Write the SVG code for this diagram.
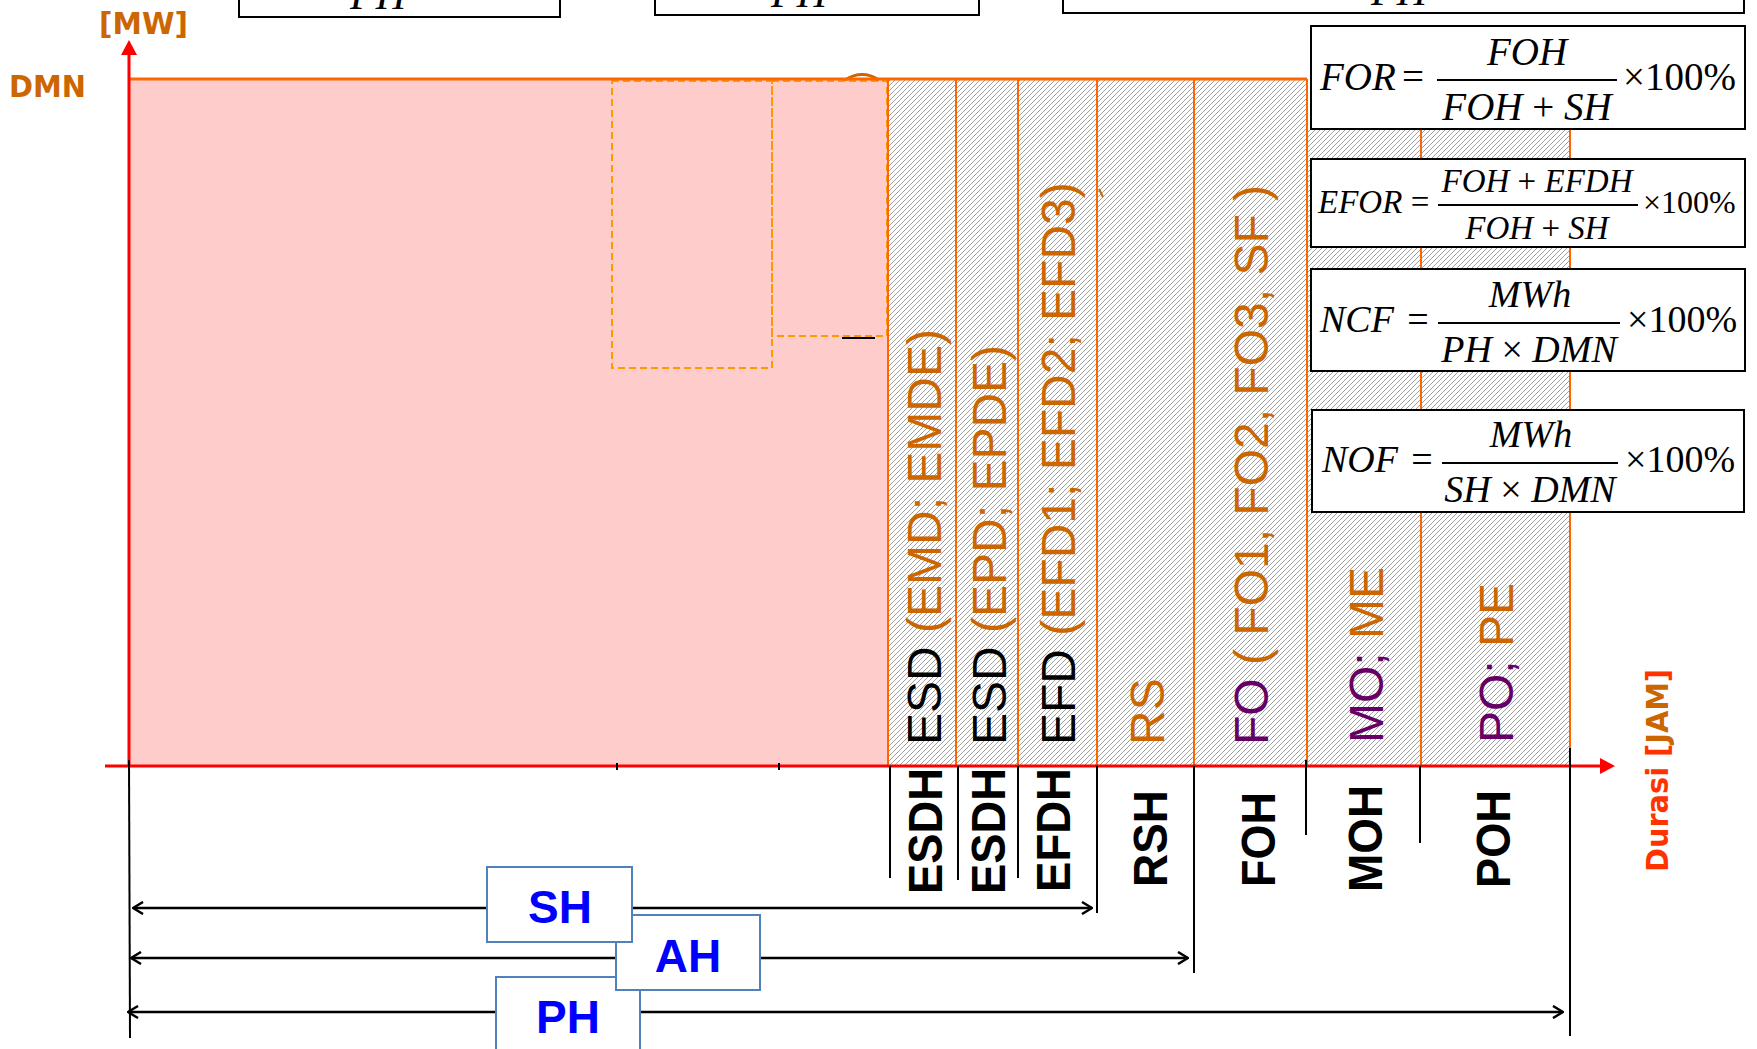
<svg xmlns="http://www.w3.org/2000/svg" width="1757" height="1049" viewBox="0 0 1757 1049">
<style>
.ax{stroke:#FF0000;stroke-width:3;fill:none}
.col{stroke:#FF6600;stroke-width:2}
.tick{stroke:#000;stroke-width:2}
.lbl{font-family:"Liberation Sans",Arial,sans-serif;font-size:48px}
.blbl{font-family:"Liberation Sans",Arial,sans-serif;font-size:48px;font-weight:bold;fill:#000}
.f{font-family:"Liberation Serif","Times New Roman",serif;font-style:italic;fill:#000}
.u{font-style:normal}
.fbox{fill:#fff;stroke:#000;stroke-width:2}
.bar{stroke:#000;stroke-width:2}
.hbox{fill:#fff;stroke:#4F81BD;stroke-width:2}
.htxt{font-family:"Liberation Sans",Arial,sans-serif;font-weight:bold;font-size:46px;fill:#0000FF;text-anchor:middle}
.dash{fill:none;stroke:#FF9900;stroke-width:2;stroke-dasharray:7 4}
.or{fill:#CC6600}.pu{fill:#660066}.bk{fill:#000}.rd{fill:#FF3300}
.vb{font-family:"DejaVu Sans",Verdana,sans-serif;font-weight:bold}
.arr{stroke:#000;stroke-width:2.5;fill:none}
</style>
<defs>
<pattern id="hatch" width="5" height="5" patternUnits="userSpaceOnUse">
<rect width="5" height="5" fill="#fff"/>
<path d="M-1,1 L1,-1 M0,5 L5,0 M4,6 L6,4" stroke="#a0a0a0" stroke-width="1"/>
</pattern>
<marker id="chev" viewBox="0 0 12 14" refX="11" refY="7" markerWidth="12" markerHeight="14" markerUnits="userSpaceOnUse" orient="auto-start-reverse">
<path d="M1,1 L11,7 L1,13" fill="none" stroke="#000" stroke-width="2.5"/>
</marker>
</defs>

<!-- top clipped boxes -->
<g id="topbox1"><rect class="fbox" x="239" y="-20" width="321" height="37"/><text class="f" x="378" y="9" font-size="42" text-anchor="middle">PH</text></g>
<g id="topbox2"><rect class="fbox" x="655" y="-20" width="324" height="35"/><text class="f" x="799" y="7" font-size="42" text-anchor="middle">PH</text></g>
<g id="topbox3"><rect class="fbox" x="1063" y="-20" width="681" height="33"/><text class="f" x="1399" y="5" font-size="42" text-anchor="middle">PH</text></g>

<!-- chart areas -->
<g id="area">
<rect x="129" y="79" width="759" height="687" fill="#FFCCCC"/>
<rect x="888" y="79" width="419" height="687" fill="url(#hatch)"/>
<rect x="1307" y="129" width="263" height="637" fill="url(#hatch)"/>
<rect class="dash" x="612" y="81" width="160" height="287"/>
<rect class="dash" x="772" y="81" width="115" height="255"/>
<line x1="842" y1="338" x2="875" y2="338" stroke="#000" stroke-width="2"/>
<path d="M845,80 Q862,69 879,80" fill="none" stroke="#CC6600" stroke-width="3"/>
<line x1="129" y1="79" x2="1307" y2="79" stroke="#FF6600" stroke-width="3"/>
<line class="col" x1="888" y1="79" x2="888" y2="766"/>
<line class="col" x1="956" y1="79" x2="956" y2="766"/>
<line class="col" x1="1018" y1="79" x2="1018" y2="766"/>
<line class="col" x1="1097" y1="79" x2="1097" y2="766" stroke-width="3"/>
<line class="col" x1="1194" y1="79" x2="1194" y2="766"/>
<line class="col" x1="1307" y1="79" x2="1307" y2="766"/>
<line class="col" x1="1421" y1="129" x2="1421" y2="766"/>
<line class="col" x1="1570" y1="129" x2="1570" y2="748"/>
<path d="M1099,189 L1103,197" stroke="#CC6600" stroke-width="2"/>
</g>

<!-- axes -->
<g id="axes">
<line class="ax" x1="129" y1="766" x2="129" y2="54"/>
<polygon points="121,55 137,55 129,40" fill="#FF0000"/>
<line class="ax" x1="105" y1="766" x2="1601" y2="766"/>
<polygon points="1600,758 1600,774 1615,766" fill="#FF0000"/>
<line class="tick" x1="617" y1="763" x2="617" y2="770" stroke-width="1"/>
<line class="tick" x1="779" y1="763" x2="779" y2="770" stroke-width="1"/>
<text class="vb or" x="99" y="34" font-size="30" textLength="89" lengthAdjust="spacingAndGlyphs">[MW]</text>
<text class="vb or" x="9" y="97" font-size="31" textLength="77" lengthAdjust="spacingAndGlyphs">DMN</text>
<text class="vb" font-size="30" transform="translate(1668,872) rotate(-90)" textLength="203" lengthAdjust="spacingAndGlyphs"><tspan class="rd">Durasi [</tspan><tspan class="or">JAM</tspan><tspan class="rd">]</tspan></text>
</g>

<!-- column labels -->
<g id="col-labels">
<text class="lbl" transform="translate(941,745) rotate(-90)"><tspan class="bk">ESD</tspan><tspan class="or"> (EMD; EMDE)</tspan></text>
<text class="lbl" transform="translate(1006,745) rotate(-90)"><tspan class="bk">ESD</tspan><tspan class="or"> (EPD; EPDE)</tspan></text>
<text class="lbl" transform="translate(1075,745) rotate(-90)"><tspan class="bk">EFD</tspan><tspan class="or"> (EFD1; EFD2; EFD3)</tspan></text>
<text class="lbl or" transform="translate(1164,745) rotate(-90)">RS</text>
<text class="lbl" transform="translate(1268,745) rotate(-90)"><tspan class="pu">FO</tspan><tspan class="or"> ( FO1, FO2, FO3, SF )</tspan></text>
<text class="lbl" transform="translate(1383,743) rotate(-90)"><tspan class="pu">MO;</tspan><tspan class="or"> ME</tspan></text>
<text class="lbl" transform="translate(1513,743) rotate(-90)"><tspan class="pu">PO;</tspan><tspan class="or"> PE</tspan></text>
</g>

<!-- hour labels -->
<g id="hour-labels">
<text class="blbl" transform="translate(942,894) rotate(-90)" textLength="126" lengthAdjust="spacingAndGlyphs">ESDH</text>
<text class="blbl" transform="translate(1005,894) rotate(-90)" textLength="126" lengthAdjust="spacingAndGlyphs">ESDH</text>
<text class="blbl" transform="translate(1070,892) rotate(-90)" textLength="124" lengthAdjust="spacingAndGlyphs">EFDH</text>
<text class="blbl" transform="translate(1167,887) rotate(-90)" textLength="97" lengthAdjust="spacingAndGlyphs">RSH</text>
<text class="blbl" transform="translate(1275,887) rotate(-90)" textLength="95" lengthAdjust="spacingAndGlyphs">FOH</text>
<text class="blbl" transform="translate(1382,892) rotate(-90)" textLength="107" lengthAdjust="spacingAndGlyphs">MOH</text>
<text class="blbl" transform="translate(1510,888) rotate(-90)" textLength="98" lengthAdjust="spacingAndGlyphs">POH</text>
</g>

<!-- formulas -->
<g id="formula-for">
<rect class="fbox" x="1311" y="26" width="434" height="103"/>
<text class="f" x="1320" y="90" font-size="39">FOR</text>
<text class="f u" x="1413" y="90" font-size="39" text-anchor="middle">=</text>
<text class="f" x="1527" y="65" font-size="39" text-anchor="middle">FOH</text>
<line class="bar" x1="1437" y1="80" x2="1617" y2="80"/>
<text class="f" x="1527" y="120" font-size="39" text-anchor="middle">FOH<tspan class="u"> + </tspan>SH</text>
<text class="f u" x="1623" y="90" font-size="39">×100%</text>
</g>
<g id="formula-efor">
<rect class="fbox" x="1311" y="159" width="434" height="88"/>
<text class="f" x="1318" y="213" font-size="33">EFOR</text>
<text class="f u" x="1420" y="213" font-size="33" text-anchor="middle">=</text>
<text class="f" x="1537" y="192" font-size="33" text-anchor="middle">FOH<tspan class="u"> + </tspan>EFDH</text>
<line class="bar" x1="1438" y1="205" x2="1638" y2="205"/>
<text class="f" x="1537" y="239" font-size="33" text-anchor="middle">FOH<tspan class="u"> + </tspan>SH</text>
<text class="f u" x="1643" y="213" font-size="32">×100%</text>
</g>
<g id="formula-ncf">
<rect class="fbox" x="1311" y="269" width="434" height="102"/>
<text class="f" x="1320" y="332" font-size="38">NCF</text>
<text class="f u" x="1418" y="332" font-size="38" text-anchor="middle">=</text>
<text class="f" x="1530" y="307" font-size="38" text-anchor="middle">MWh</text>
<line class="bar" x1="1438" y1="323" x2="1620" y2="323"/>
<text class="f" x="1529" y="362" font-size="38" text-anchor="middle">PH<tspan class="u"> × </tspan>DMN</text>
<text class="f u" x="1627" y="332" font-size="38">×100%</text>
</g>
<g id="formula-nof">
<rect class="fbox" x="1312" y="410" width="432" height="102"/>
<text class="f" x="1322" y="472" font-size="38">NOF</text>
<text class="f u" x="1422" y="472" font-size="38" text-anchor="middle">=</text>
<text class="f" x="1531" y="447" font-size="38" text-anchor="middle">MWh</text>
<line class="bar" x1="1442" y1="463" x2="1618" y2="463"/>
<text class="f" x="1530" y="502" font-size="38" text-anchor="middle">SH<tspan class="u"> × </tspan>DMN</text>
<text class="f u" x="1625" y="472" font-size="38">×100%</text>
</g>

<!-- connectors -->
<g id="connectors">
<line class="tick" x1="129" y1="760" x2="130" y2="1038"/>
<line class="tick" x1="890" y1="766" x2="890" y2="878"/>
<line class="tick" x1="958" y1="766" x2="958" y2="880"/>
<line class="tick" x1="1018" y1="766" x2="1018" y2="878"/>
<line class="tick" x1="1097" y1="766" x2="1097" y2="913"/>
<line class="tick" x1="1194" y1="766" x2="1194" y2="973"/>
<line class="tick" x1="1306" y1="760" x2="1306" y2="835"/>
<line class="tick" x1="1420" y1="766" x2="1420" y2="843"/>
<line class="tick" x1="1570" y1="748" x2="1570" y2="1036" stroke-width="2.5"/>
<line class="arr" x1="133" y1="908" x2="1092" y2="908" marker-start="url(#chev)" marker-end="url(#chev)"/>
<line class="arr" x1="131" y1="958" x2="1188" y2="958" marker-start="url(#chev)" marker-end="url(#chev)"/>
<line class="arr" x1="128" y1="1012" x2="1563" y2="1012" marker-start="url(#chev)" marker-end="url(#chev)"/>
</g>

<!-- duration labels -->
<g id="label-ph"><rect class="hbox" x="496" y="977" width="144" height="90"/><text class="htxt" x="568" y="1033">PH</text></g>
<g id="label-ah"><rect class="hbox" x="616" y="915" width="144" height="75"/><text class="htxt" x="688" y="972">AH</text></g>
<g id="label-sh"><rect class="hbox" x="487" y="867" width="145" height="75"/><text class="htxt" x="560" y="923">SH</text></g>
</svg>
